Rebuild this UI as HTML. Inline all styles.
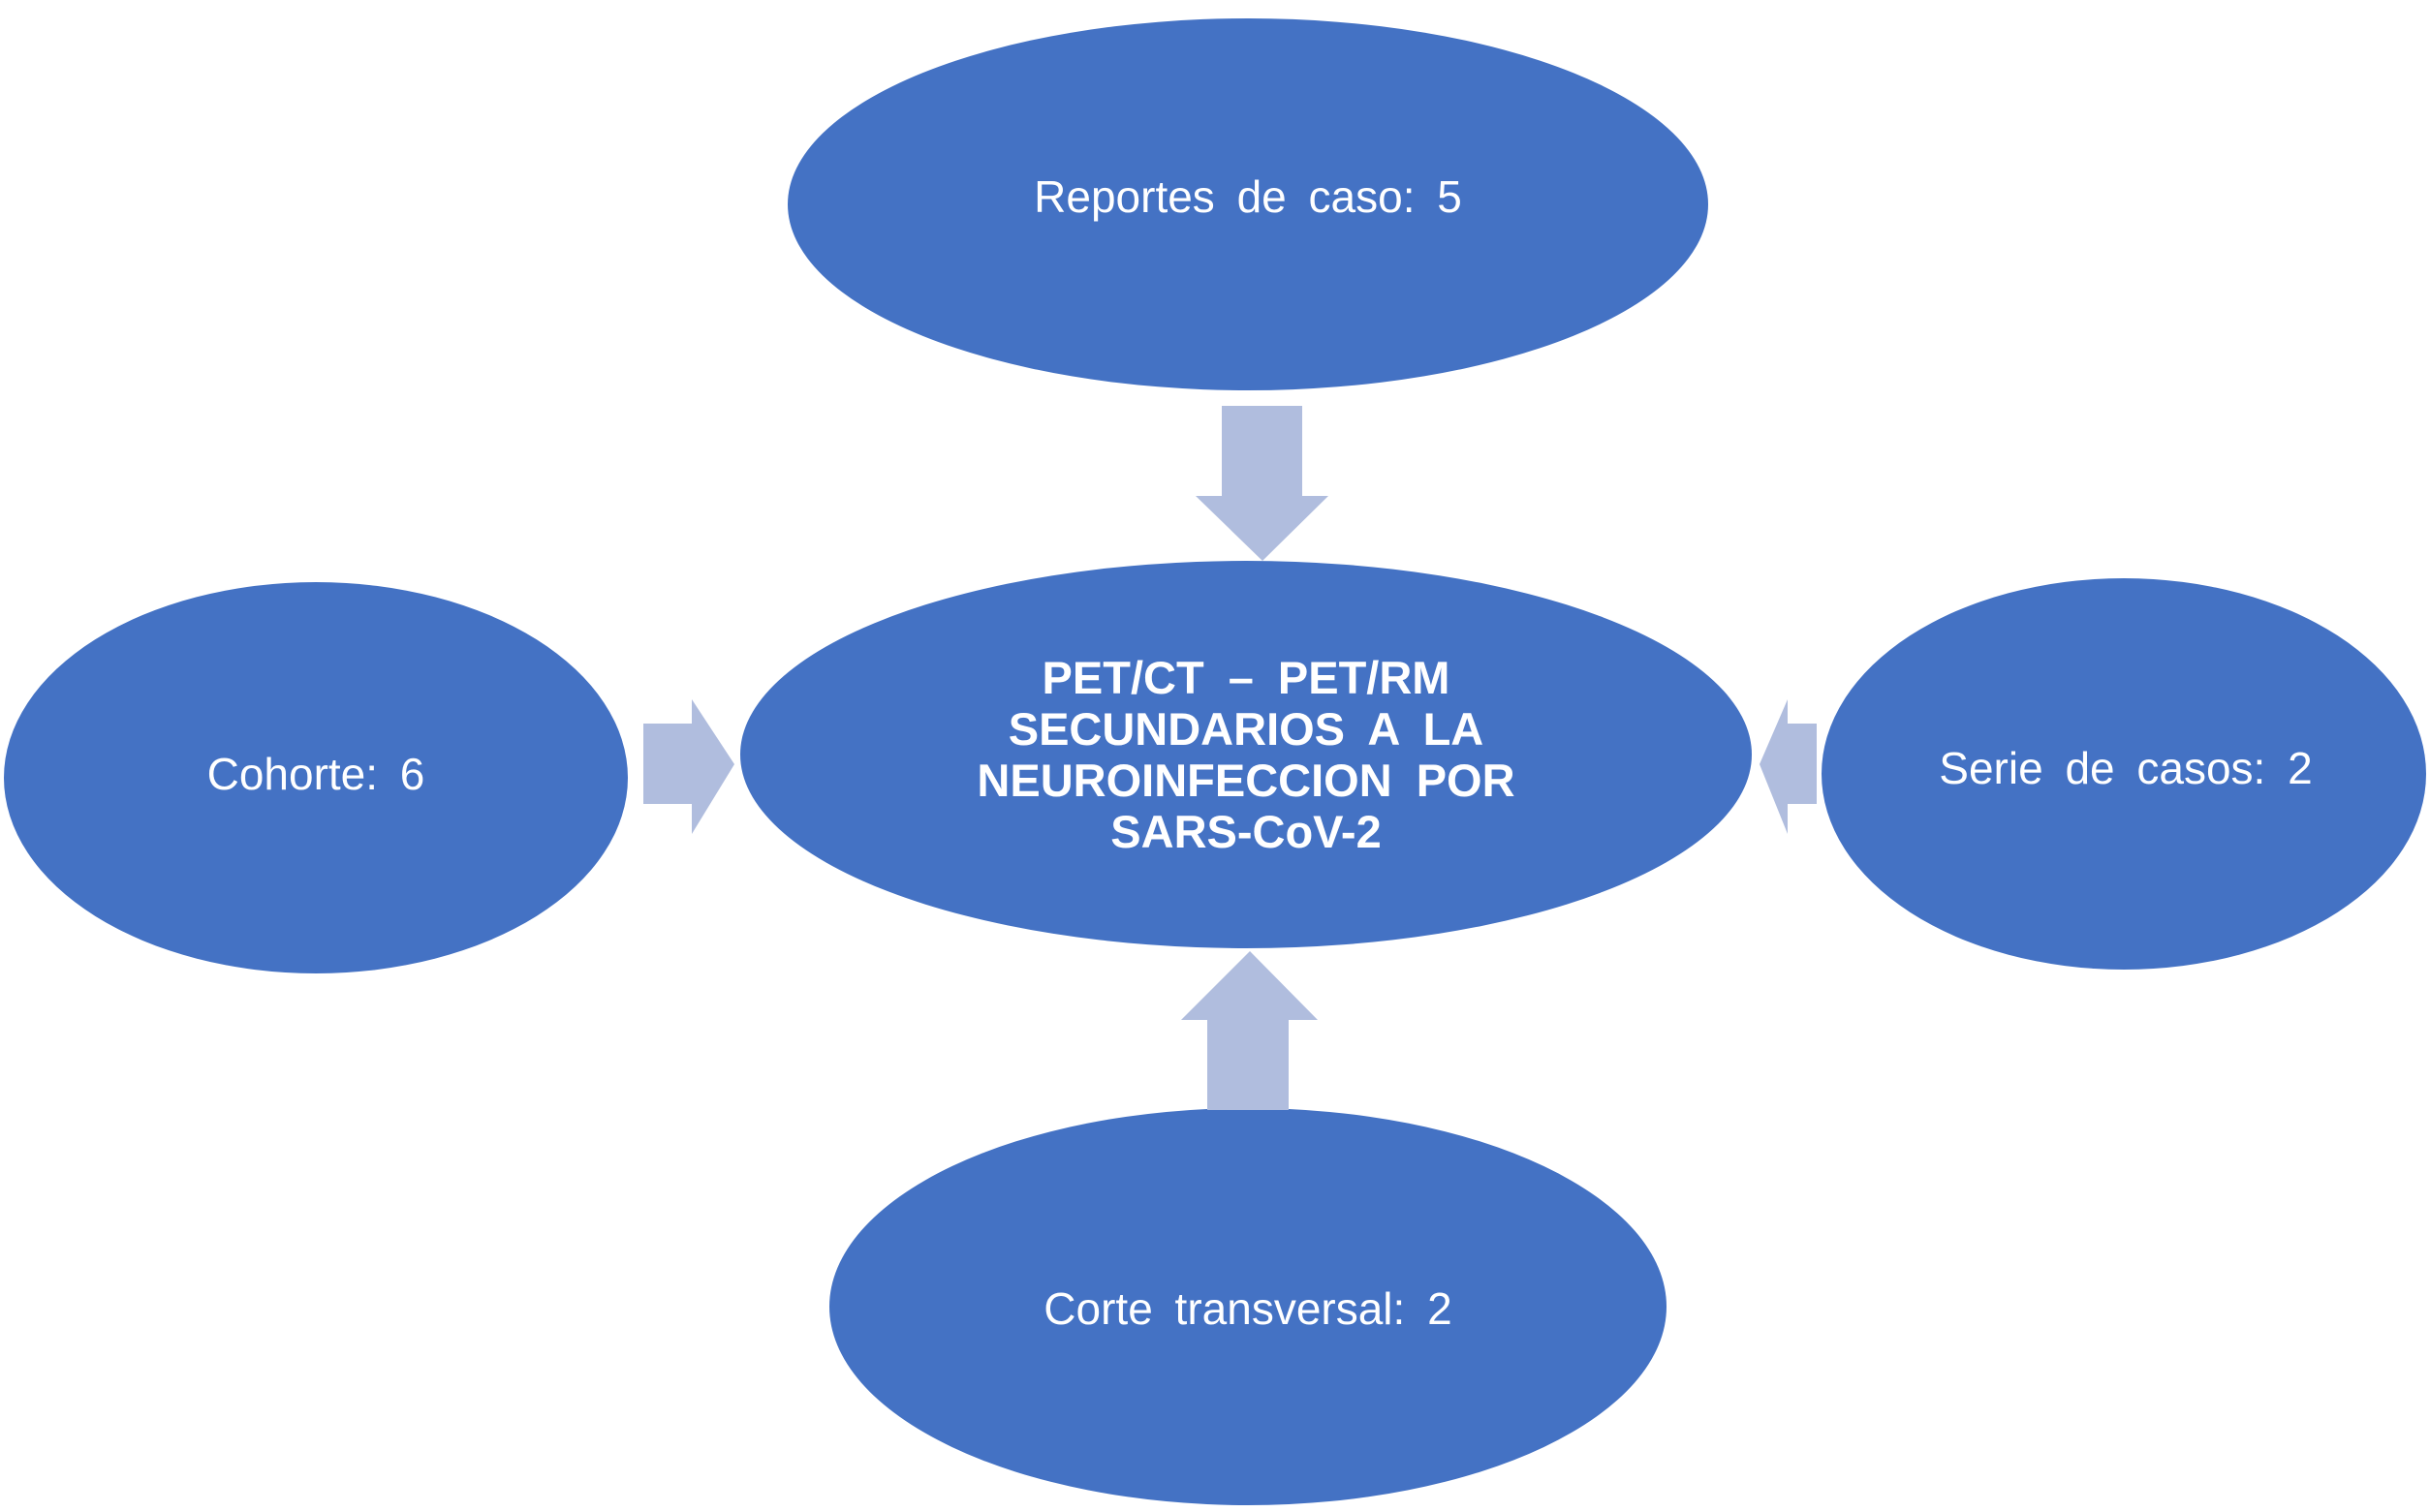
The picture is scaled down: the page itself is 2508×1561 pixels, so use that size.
<!DOCTYPE html>
<html><head><meta charset="utf-8"><style>
html,body{margin:0;padding:0;background:#fff;}
svg{display:block;}
text{font-family:"Liberation Sans",Arial,sans-serif;fill:#fff;}
</style></head><body>
<svg width="2508" height="1561" viewBox="0 0 2508 1561" xmlns="http://www.w3.org/2000/svg">
<g fill="#4472C4">
<ellipse cx="1288" cy="211" rx="475" ry="192"/>
<ellipse cx="1286" cy="779" rx="522" ry="200"/>
<ellipse cx="326" cy="803" rx="322" ry="202"/>
<ellipse cx="2192" cy="799" rx="312" ry="202"/>
<ellipse cx="1288" cy="1349" rx="432" ry="205"/>
</g>
<g fill="#B0BDDE">
<polygon points="1261,419 1344,419 1344,512 1371,512 1303,579 1234,512 1261,512"/>
<polygon points="1246,1146 1330,1146 1330,1053 1360,1053 1290,982 1219,1053 1246,1053"/>
<polygon points="664,747 714,747 714,722 758,789 714,861 714,830 664,830"/>
<polygon points="1875,747 1845,747 1845,722 1816,789 1845,861 1845,830 1875,830"/>
</g>
<g font-size="46" text-anchor="middle" word-spacing="10">
<text x="1288" y="219">Reportes de caso: 5</text>
<text x="326" y="815">Cohorte: 6</text>
<text x="2194" y="809">Serie de casos: 2</text>
<text x="1288" y="1367">Corte transversal: 2</text>
</g>
<g font-size="47" font-weight="bold" text-anchor="middle" word-spacing="12">
<text x="1286" y="716">PET/CT – PET/RM</text>
<text x="1286" y="769">SECUNDARIOS A LA</text>
<text x="1286" y="822">NEUROINFECCION POR</text>
<text x="1286" y="875">SARS-CoV-2</text>
</g>
</svg>
</body></html>
